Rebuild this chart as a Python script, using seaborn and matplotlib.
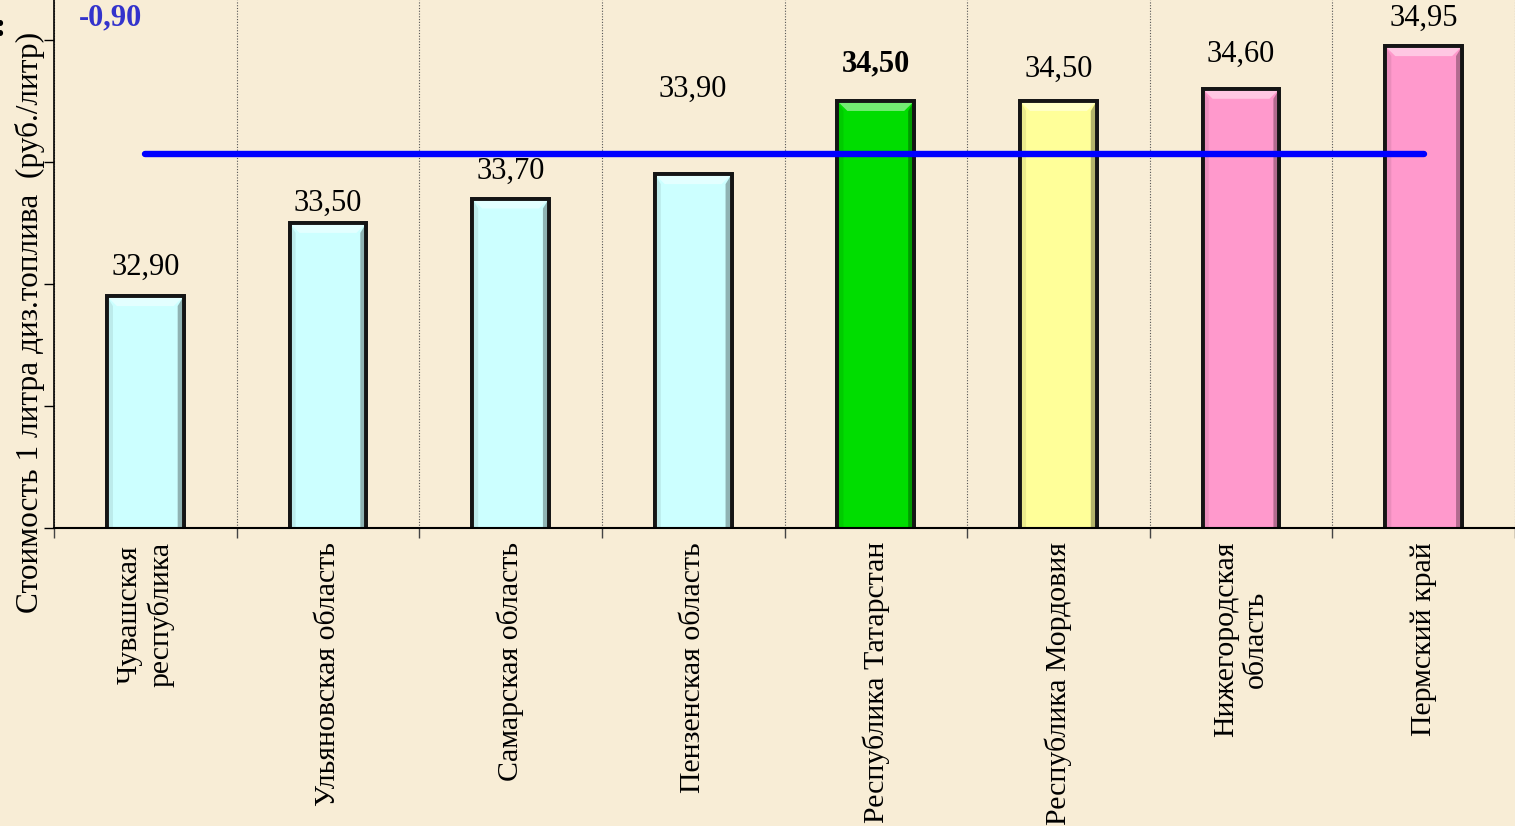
import matplotlib
matplotlib.use("Agg")
import matplotlib.pyplot as plt
import matplotlib.colors as mcolors
from matplotlib.patches import Polygon
import numpy as np
import pandas as pd
import seaborn as sns

# data
regions = [
    "Чувашская\nреспублика",
    "Ульяновская область",
    "Самарская область",
    "Пензенская область",
    "Республика Татарстан",
    "Республика Мордовия",
    "Нижегородская\nобласть",
    "Пермский край",
]
prices = [32.90, 33.50, 33.70, 33.90, 34.50, 34.50, 34.60, 34.95]
price_labels = ["32,90", "33,50", "33,70", "33,90", "34,50", "34,50", "34,60", "34,95"]
bar_colors = ["#CCFFFF", "#CCFFFF", "#CCFFFF", "#CCFFFF", "#00DD00", "#FFFF99", "#FF99CC", "#FF99CC"]
highlight_region = "Республика Татарстан"
delta_text = "-0,90"
y_title = "Стоимость 1 литра диз.топлива  (руб./литр)"

# label distance above each bar (points), the 33,90 one sits above the average line
LABEL_PAD = [21, 14, 20, 61, 27, 23, 25, 20]

BG = "#F8EDD6"
FONT = ["Liberation Serif", "DejaVu Serif"]

sns.set_theme(style="white")
plt.rcParams["font.family"] = FONT
plt.rcParams["text.color"] = "black"
plt.rcParams["xtick.color"] = "black"
plt.rcParams["ytick.color"] = "black"

df = pd.DataFrame({"region": regions, "price": prices})
average = df["price"].mean()

fig = plt.figure(figsize=(15.15, 8.26), dpi=100, facecolor=BG)
ax = fig.add_axes([54 / 1515, 1 - 528 / 826, 1 - 54 / 1515, 528 / 826])
ax.set_facecolor(BG)

sns.barplot(data=df, x="region", y="price", hue="region", palette=bar_colors,
            legend=False, width=0.42, edgecolor="#151515", linewidth=2.6,
            saturation=1, ax=ax, zorder=3)

ax.set_ylim(31, 35.33)
ax.set_xlim(-0.5, len(regions) - 0.5)


def shade(color, amount):
    rgb = np.array(mcolors.to_rgb(color))
    if amount > 0:
        rgb = rgb + (1 - rgb) * amount
    else:
        rgb = rgb * (1 + amount)
    return tuple(rgb)


# bevel effect on each bar
for patch in list(ax.patches):
    x0, y0 = patch.get_x(), patch.get_y()
    w, h = patch.get_width(), patch.get_height()
    if h <= 0:
        continue
    face = patch.get_facecolor()
    bx, by = w * 0.13, 0.08
    top = y0 + h
    ax.add_patch(Polygon([(x0, top), (x0 + w, top), (x0 + w - bx, top - by), (x0 + bx, top - by)],
                         closed=True, facecolor=shade(face, 0.45), edgecolor="none", zorder=4))
    ax.add_patch(Polygon([(x0 + w, top), (x0 + w, y0), (x0 + w - bx * 0.6, y0 + by * 0.6),
                          (x0 + w - bx * 0.6, top - by)],
                         closed=True, facecolor=shade(face, -0.3), edgecolor="none", zorder=4))
    ax.add_patch(Polygon([(x0, y0), (x0 + w, y0), (x0 + w - bx * 0.6, y0 + by * 0.6), (x0 + bx * 0.6, y0 + by * 0.6)],
                         closed=True, facecolor=shade(face, -0.2), edgecolor="none", zorder=4))
    ax.add_patch(Polygon([(x0, top), (x0, y0), (x0 + bx * 0.6, y0 + by * 0.6), (x0 + bx * 0.6, top - by)],
                         closed=True, facecolor=shade(face, -0.08), edgecolor="none", zorder=4))
    ax.add_patch(Polygon([(x0, y0), (x0 + w, y0), (x0 + w, top), (x0, top)], closed=True,
                         facecolor="none", edgecolor="#151515", linewidth=2.8, zorder=5))

# average line across the regions
ax.plot([0, len(regions) - 1], [average, average], color="#0000FF", linewidth=4.6,
        solid_capstyle="round", zorder=6)

for i, (v, lab) in enumerate(zip(prices, price_labels)):
    bold = regions[i] == highlight_region
    ax.annotate(lab, (i, v), xytext=(0, LABEL_PAD[i]), textcoords="offset points", ha="center",
                va="center", fontsize=22, fontweight="bold" if bold else "normal",
                color="black", zorder=7)

# axes styling
for side in ["top", "right"]:
    ax.spines[side].set_visible(False)
ax.spines["left"].set_color("black")
ax.spines["left"].set_linewidth(1.2)
ax.spines["bottom"].set_color("black")
ax.spines["bottom"].set_linewidth(1.5)
ax.spines["bottom"].set_zorder(8)

ax.set_yticks(np.arange(31, 36, 1))
ax.set_yticklabels([])
ax.tick_params(axis="y", direction="out", length=7, width=1, color="black", left=True)

ax.set_xticks(np.arange(-0.5, len(regions), 1), minor=True)
ax.tick_params(axis="x", which="minor", direction="out", length=7, width=1, color="#444444", bottom=True)
ax.tick_params(axis="x", which="major", length=0, pad=10)
ax.set_xticks(range(len(regions)))
ax.set_xticklabels(regions, rotation=90, va="top", ha="center", multialignment="center",
                   fontsize=21.5, color="black")
ax.grid(axis="x", which="minor", color="#555555", linestyle=(0, (1, 1.5)), linewidth=0.8, zorder=1)
ax.grid(axis="y", visible=False)
ax.set_xlabel("")
ax.set_ylabel("")

fig.text(30 / 1515, 1 - 322 / 826, y_title, rotation=90, ha="center", va="center", fontsize=22.5)
fig.text(110 / 1515, 1 - 18 / 826, delta_text, ha="center", va="center", fontsize=22,
         fontweight="bold", color="#3333CC")
fig.text(0.0, 1 - 27 / 826, ":", ha="center", va="center", fontsize=24, fontweight="bold", color="black")

fig.savefig("out.png", dpi=100, facecolor=BG)
